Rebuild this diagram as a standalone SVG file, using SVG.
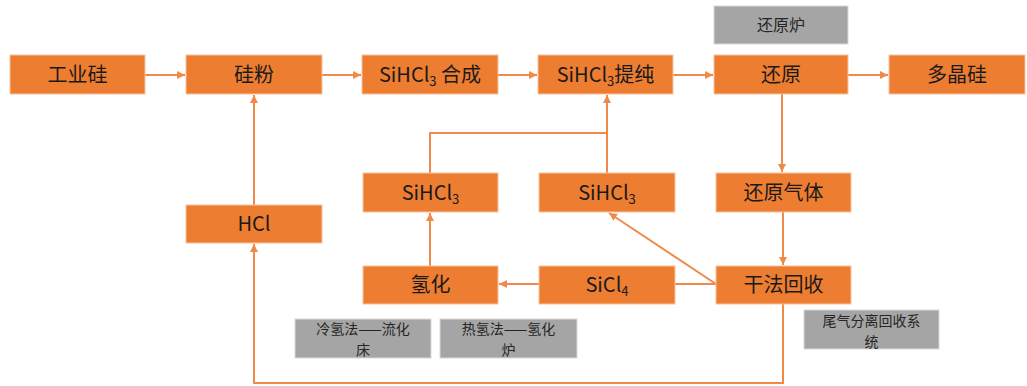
<svg xmlns="http://www.w3.org/2000/svg" width="1027" height="386" viewBox="0 0 1027 386">
<style>
.box{fill:#ED7D31;stroke:#F6C3A2;stroke-width:1}
.gbox{fill:#A5A5A5;stroke:#D9D9D9;stroke-width:1}
.t{font-family:"Noto Sans CJK SC","Noto Sans",sans-serif;font-size:20px;fill:#1A1A1A;text-anchor:middle}
.g{font-family:"Noto Sans CJK SC","Noto Sans",sans-serif;font-size:16px;fill:#262626;text-anchor:middle}
.g2{font-family:"Noto Sans CJK SC","Noto Sans",sans-serif;font-size:14px;fill:#262626;text-anchor:middle}
.sub{font-size:13px}
.c{fill:none;stroke:#F08A4B;stroke-width:2}
</style>
<defs>
<marker id="ah" viewBox="0 0 8 8" refX="8" refY="4" markerWidth="4" markerHeight="4" orient="auto" markerUnits="strokeWidth">
<path d="M0,0 L8,4 L0,8 z" fill="#F08A4B"/>
</marker>
</defs>
<g id="connectors">
<path class="c" d="M145,75 H185" marker-end="url(#ah)"/>
<path class="c" d="M322,75 H361" marker-end="url(#ah)"/>
<path class="c" d="M498,75 H537" marker-end="url(#ah)"/>
<path class="c" d="M673,75 H713" marker-end="url(#ah)"/>
<path class="c" d="M848,75 H888" marker-end="url(#ah)"/>
<path class="c" d="M254,205 V95" marker-end="url(#ah)"/>
<path class="c" d="M783,304 V383 H254 V244" marker-end="url(#ah)"/>
<path class="c" d="M782,94 V172" marker-end="url(#ah)"/>
<path class="c" d="M783,212 V265" marker-end="url(#ah)"/>
<path class="c" d="M716,284 H675"/>
<path class="c" d="M539,284 H499" marker-end="url(#ah)"/>
<path class="c" d="M716,284 L609,213" marker-end="url(#ah)"/>
<path class="c" d="M430,266 V213" marker-end="url(#ah)"/>
<path class="c" d="M430,173 V133 H607"/>
<path class="c" d="M607,173 V95" marker-end="url(#ah)"/>
</g>
<g id="n-gongyegui"><rect class="box" x="10" y="55" width="135" height="39"/><text class="t" x="77.5" y="82">工业硅</text></g>
<g id="n-guifen"><rect class="box" x="186" y="55" width="136" height="39"/><text class="t" x="254" y="82">硅粉</text></g>
<g id="n-hecheng"><rect class="box" x="362" y="55" width="136" height="39"/><text class="t" x="430" y="82">SiHCl<tspan class="sub" dy="4">3</tspan><tspan dy="-4"> 合成</tspan></text></g>
<g id="n-tichun"><rect class="box" x="538" y="55" width="135" height="39"/><text class="t" x="605.5" y="82">SiHCl<tspan class="sub" dy="4">3</tspan><tspan dy="-4">提纯</tspan></text></g>
<g id="n-huanyuan"><rect class="box" x="714" y="55" width="134" height="39"/><text class="t" x="781" y="82">还原</text></g>
<g id="n-duojinggui"><rect class="box" x="889" y="55" width="136" height="39"/><text class="t" x="957" y="82">多晶硅</text></g>
<g id="n-huanyuanlu"><rect class="gbox" x="714" y="6" width="134" height="38"/><text class="g" x="781" y="31">还原炉</text></g>
<g id="n-sihcl3-left"><rect class="box" x="363" y="173" width="135" height="39"/><text class="t" x="430.5" y="200">SiHCl<tspan class="sub" dy="4">3</tspan></text></g>
<g id="n-sihcl3-right"><rect class="box" x="539" y="173" width="136" height="39"/><text class="t" x="607" y="200">SiHCl<tspan class="sub" dy="4">3</tspan></text></g>
<g id="n-huanyuanqiti"><rect class="box" x="716" y="173" width="135" height="39"/><text class="t" x="783.5" y="200">还原气体</text></g>
<g id="n-hcl"><rect class="box" x="186" y="205" width="136" height="38"/><text class="t" x="254" y="231">HCl</text></g>
<g id="n-qinghua"><rect class="box" x="363" y="266" width="135" height="38"/><text class="t" x="430.5" y="292">氢化</text></g>
<g id="n-sicl4"><rect class="box" x="539" y="266" width="136" height="38"/><text class="t" x="607" y="292">SiCl<tspan class="sub" dy="4">4</tspan></text></g>
<g id="n-ganfa"><rect class="box" x="716" y="266" width="135" height="38"/><text class="t" x="783.5" y="292">干法回收</text></g>
<g id="n-lengqing"><rect class="gbox" x="295" y="319" width="136" height="39"/><text class="g2" x="363" y="334">冷氢法——流化<tspan x="363" dy="20.5">床</tspan></text></g>
<g id="n-reqing"><rect class="gbox" x="440" y="319" width="137" height="39"/><text class="g2" x="508.5" y="334">热氢法——氢化<tspan x="508.5" dy="20.5">炉</tspan></text></g>
<g id="n-weiqi"><rect class="gbox" x="804" y="310" width="135" height="39"/><text class="g2" x="871.5" y="326">尾气分离回收系<tspan x="871.5" dy="20.5">统</tspan></text></g>
</svg>
